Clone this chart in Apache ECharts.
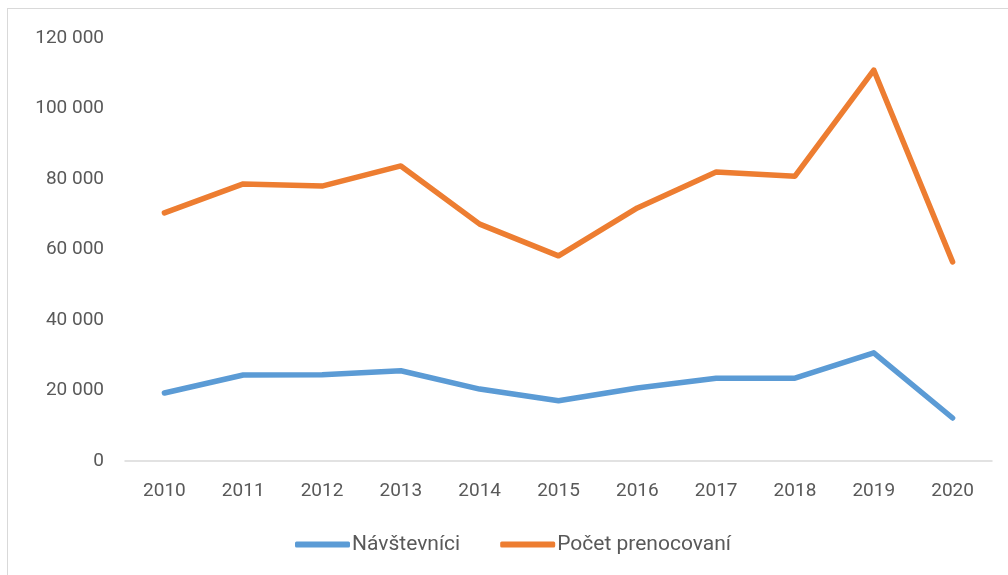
<!DOCTYPE html>
<html>
<head>
<meta charset="utf-8">
<script src="https://cdn.jsdelivr.net/npm/echarts@6/dist/echarts.min.js"></script>
<style>
  html, body { margin: 0; padding: 0; background: #fff; }
  #frame {
    position: absolute; left: 7px; top: 8px; width: 1010px; height: 580px;
    border-left: 1px solid #d9d9d9; border-top: 1px solid #d9d9d9;
  }
  #chart { position: absolute; left: 0; top: 0; width: 1008px; height: 575px; }
</style>
</head>
<body>
<div id="frame"></div>
<div id="chart"></div>
<script>
// roky
const years = ['2010', '2011', '2012', '2013', '2014', '2015', '2016', '2017', '2018', '2019', '2020']
// odhad z obrazku
const visitors = [19300, 24400, 24500, 25600, 20400, 17100, 20700, 23500, 23500, 30700, 12200]
const overnights = [70400, 78600, 78000, 83700, 67200, 58200, 71800, 82000, 80800, 110900, 56500]

const yMin = 0
const yMax = 120000
const yStep = 20000

const myChart = echarts.init(document.querySelector('#chart'))

const fmt = v => {
  // medzera ako oddelovac tisicov
  return String(v).replace(/\B(?=(\d{3})+(?!\d))/g, ' ')
}

const labelFont = 'Roboto, "Noto Sans", sans-serif'

let option = {
  animation: false,
  grid: {
    left: 125,
    right: 16,
    top: 38,
    bottom: 114
  },
  legend: {
    bottom: 15,
    left: 290,
    icon: 'roundRect',
    itemWidth: 55,
    itemHeight: 6,
    itemGap: 40,
    textStyle: {
      color: '#595959',
      fontSize: 21,
      fontFamily: labelFont,
      padding: [0, 0, 0, -3]
    },
    data: ['Návštevníci', 'Počet prenocovaní']
  },
  xAxis: {
    type: 'category',
    data: years,
    axisLine: {
      lineStyle: { color: '#d9d9d9', width: 1.5 }
    },
    axisTick: { show: false },
    axisLabel: {
      color: '#595959',
      fontSize: 19,
      fontFamily: labelFont,
      margin: 21
    }
  },
  yAxis: {
    type: 'value',
    min: yMin,
    max: yMax,
    interval: yStep,
    axisLine: { show: false },
    axisTick: { show: false },
    splitLine: { show: false },
    axisLabel: {
      color: '#595959',
      fontSize: 19,
      fontFamily: labelFont,
      margin: 21,
      formatter: fmt
    }
  },
  series: [
    {
      name: 'Návštevníci',
      type: 'line',
      data: visitors,
      showSymbol: false,
      symbol: 'none',
      color: '#5b9bd5',
      lineStyle: { width: 5.5, cap: 'round', join: 'round' }
    },
    {
      name: 'Počet prenocovaní',
      type: 'line',
      data: overnights,
      showSymbol: false,
      symbol: 'none',
      color: '#ed7d31',
      lineStyle: { width: 5.5, cap: 'round', join: 'round' }
    }
  ]
}
myChart.setOption(option)
</script>
</body>
</html>
